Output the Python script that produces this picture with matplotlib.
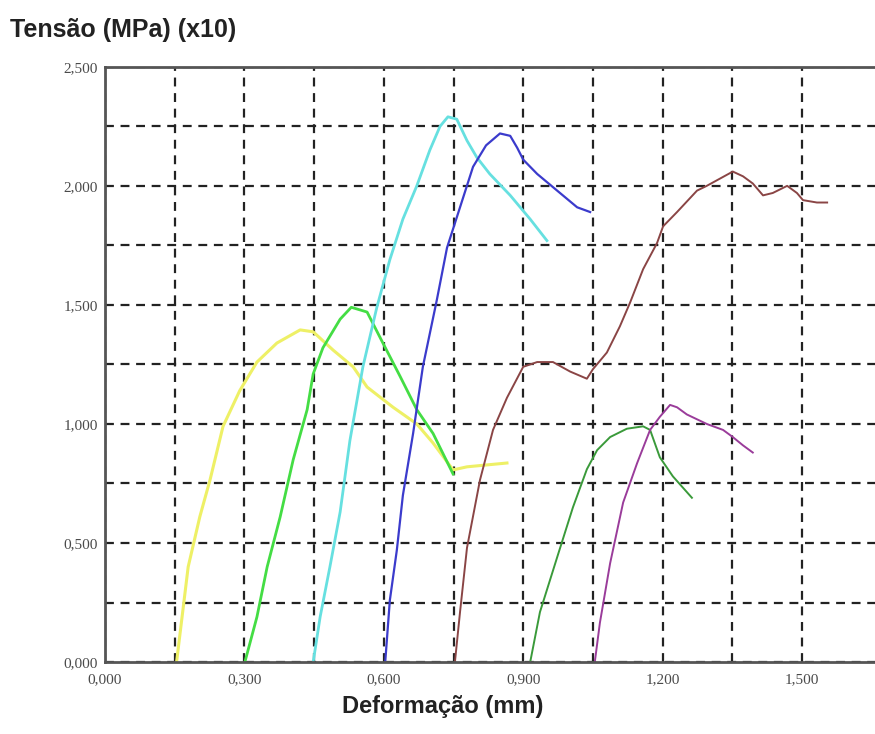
import numpy as np
import matplotlib
matplotlib.use("Agg")
import matplotlib.pyplot as plt
from matplotlib.ticker import FuncFormatter, MultipleLocator, FixedLocator

# curves: deformation (mm), stress (MPa x10)
yellow_x = [0.154, 0.179, 0.204, 0.226, 0.254, 0.290, 0.327, 0.370, 0.420, 0.448, 0.491,
            0.534, 0.564, 0.620, 0.671, 0.706, 0.749, 0.779, 0.865]
yellow_y = [0.00, 0.40, 0.61, 0.765, 0.99, 1.14, 1.26, 1.34, 1.395, 1.387, 1.31,
            1.24, 1.155, 1.07, 1.00, 0.92, 0.807, 0.82, 0.836]

lgreen_x = [0.301, 0.327, 0.349, 0.377, 0.405, 0.435, 0.448, 0.469, 0.506, 0.530, 0.564,
            0.598, 0.635, 0.671, 0.706, 0.749]
lgreen_y = [0.00, 0.19, 0.40, 0.61, 0.85, 1.06, 1.21, 1.32, 1.44, 1.49, 1.47,
            1.34, 1.20, 1.06, 0.96, 0.79]

cyan_x = [0.448, 0.463, 0.484, 0.506, 0.527, 0.555, 0.585, 0.613, 0.641, 0.671, 0.699,
          0.721, 0.738, 0.757, 0.779, 0.800, 0.828, 0.872, 0.915, 0.951]
cyan_y = [0.00, 0.19, 0.40, 0.63, 0.93, 1.24, 1.49, 1.69, 1.86, 2.00, 2.15,
          2.25, 2.29, 2.28, 2.19, 2.12, 2.05, 1.96, 1.86, 1.77]

blue_x = [0.603, 0.613, 0.628, 0.641, 0.663, 0.684, 0.714, 0.736, 0.764, 0.792, 0.820,
          0.850, 0.872, 0.887, 0.900, 0.930, 0.973, 1.016, 1.044]
blue_y = [0.00, 0.26, 0.47, 0.70, 0.96, 1.24, 1.52, 1.74, 1.91, 2.08, 2.17,
          2.22, 2.21, 2.16, 2.11, 2.05, 1.98, 1.91, 1.89]

brown_x = [0.753, 0.764, 0.779, 0.807, 0.835, 0.865, 0.900, 0.930, 0.964, 1.001, 1.037,
           1.050, 1.080, 1.108, 1.130, 1.158, 1.188, 1.201, 1.231, 1.274, 1.295, 1.323,
           1.351, 1.373, 1.394, 1.416, 1.437, 1.468, 1.489, 1.502, 1.532, 1.554]
brown_y = [0.00, 0.21, 0.48, 0.765, 0.975, 1.11, 1.24, 1.26, 1.26, 1.22, 1.19,
           1.23, 1.30, 1.41, 1.51, 1.65, 1.76, 1.83, 1.89, 1.98, 2.00, 2.03,
           2.06, 2.04, 2.01, 1.96, 1.97, 2.00, 1.97, 1.94, 1.93, 1.93]

dgreen_x = [0.915, 0.936, 0.973, 1.007, 1.037, 1.059, 1.087, 1.123, 1.158, 1.173, 1.194,
            1.222, 1.263]
dgreen_y = [0.00, 0.21, 0.44, 0.65, 0.81, 0.89, 0.945, 0.98, 0.99, 0.975, 0.86,
            0.78, 0.69]

purple_x = [1.054, 1.065, 1.087, 1.115, 1.145, 1.173, 1.194, 1.216, 1.231, 1.252, 1.295,
            1.330, 1.351, 1.373, 1.394]
purple_y = [0.00, 0.165, 0.415, 0.67, 0.835, 0.975, 1.03, 1.08, 1.07, 1.04, 1.00,
            0.975, 0.945, 0.91, 0.88]

fig = plt.figure(figsize=(8.75, 7.34), dpi=100)
ax = fig.add_axes([0.12, 0.098, 0.88, 0.811])

ax.plot(yellow_x, yellow_y, color="#eef066", lw=2.2)
ax.plot(lgreen_x, lgreen_y, color="#44dd44", lw=2.0)
ax.plot(cyan_x, cyan_y, color="#66e0e0", lw=2.0)
ax.plot(blue_x, blue_y, color="#3b3bcc", lw=1.6)
ax.plot(brown_x, brown_y, color="#8a4545", lw=1.4)
ax.plot(dgreen_x, dgreen_y, color="#3a9a3a", lw=1.4)
ax.plot(purple_x, purple_y, color="#9a3c9a", lw=1.4)

ax.set_xlim(0, 1.657)
ax.set_ylim(0, 2.5)
ax.xaxis.set_major_locator(MultipleLocator(0.3))
ax.xaxis.set_minor_locator(FixedLocator([0.15, 0.45, 0.75, 1.05, 1.35]))
ax.yaxis.set_major_locator(MultipleLocator(0.5))
ax.yaxis.set_minor_locator(MultipleLocator(0.25))
fmt = FuncFormatter(lambda v, p: f"{v:.3f}".replace(".", ","))
ax.xaxis.set_major_formatter(fmt)
ax.yaxis.set_major_formatter(fmt)
ax.tick_params(which="both", length=0, labelsize=11, labelcolor="#4a4a4a")
ax.tick_params(axis="x", pad=8)
ax.tick_params(axis="y", pad=5)
for lab in ax.get_xticklabels() + ax.get_yticklabels():
    lab.set_family("Liberation Serif")

ax.grid(which="both", color="#222222", ls=(0, (4, 3)), lw=1.6)
ax.set_axisbelow(True)
for s in ["left", "bottom", "top"]:
    ax.spines[s].set_color("#555555")
    ax.spines[s].set_linewidth(2)
ax.spines["right"].set_visible(False)

fig.text(0.012, 0.959, "Tensão (MPa) (x10)", fontsize=18, fontweight="bold",
         family="Liberation Sans", color="#222222", va="center")
ax.set_xlabel("Deformação (mm)", fontsize=17, fontweight="bold",
              family="Liberation Sans", color="#222222")
ax.xaxis.set_label_coords(0.439, -0.074)
ax.xaxis.label.set_va("center")

fig.savefig("out.png", dpi=100)
